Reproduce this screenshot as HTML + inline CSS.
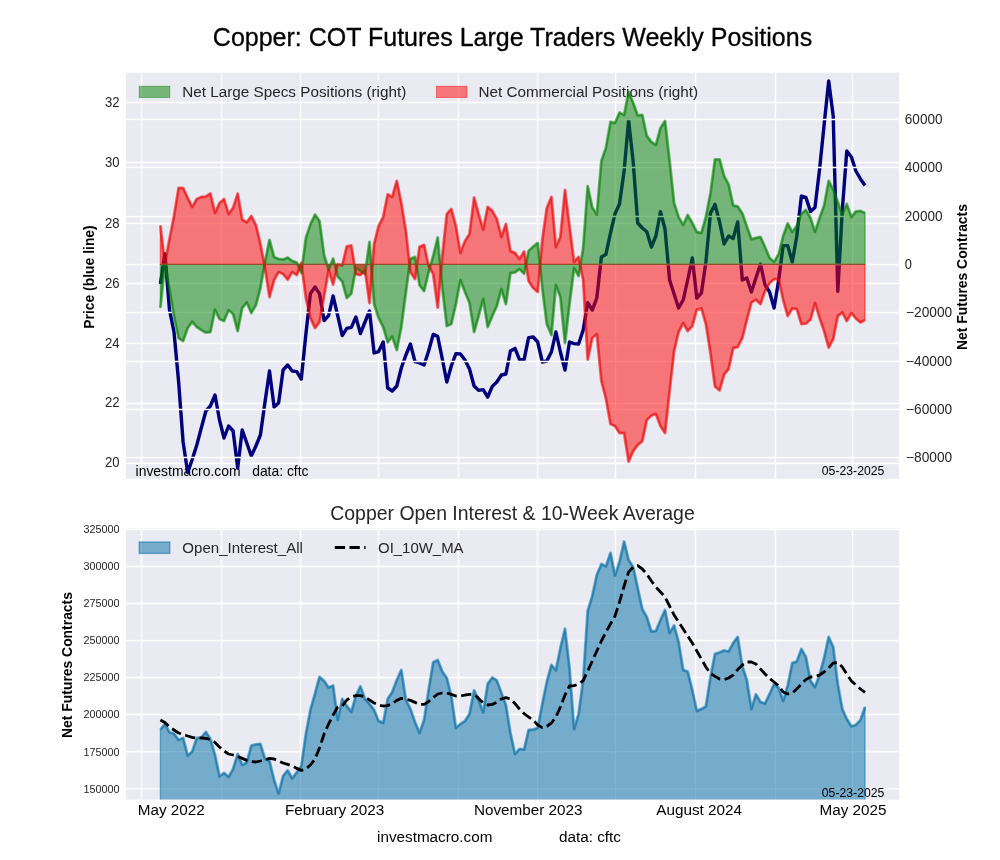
<!DOCTYPE html><html><head><meta charset="utf-8"><title>Copper COT</title>
<style>html,body{margin:0;padding:0;background:#fff}svg{display:block;will-change:transform}text{font-family:"Liberation Sans",sans-serif;paint-order:stroke}</style></head><body>
<svg width="1000" height="860" viewBox="0 0 1000 860">
<rect width="1000" height="860" fill="#fff"/>
<defs><clipPath id="ct"><rect x="126.0" y="72.8" width="773.0" height="406.0"/></clipPath><clipPath id="cb"><rect x="126.0" y="528.5" width="773.0" height="271.1"/></clipPath></defs>
<text x="512.5" y="46.2" font-size="25" text-anchor="middle" fill="#000" stroke="#000" stroke-width="0.3">Copper: COT Futures Large Traders Weekly Positions</text>
<rect x="126.0" y="72.8" width="773.0" height="406.0" fill="#eaeaf2"/>
<g stroke="#fff" stroke-width="1.39" clip-path="url(#ct)">
<line x1="141.5" y1="72.8" x2="141.5" y2="478.8"/>
<line x1="221.5" y1="72.8" x2="221.5" y2="478.8"/>
<line x1="300.5" y1="72.8" x2="300.5" y2="478.8"/>
<line x1="378.5" y1="72.8" x2="378.5" y2="478.8"/>
<line x1="458.5" y1="72.8" x2="458.5" y2="478.8"/>
<line x1="537.5" y1="72.8" x2="537.5" y2="478.8"/>
<line x1="615.5" y1="72.8" x2="615.5" y2="478.8"/>
<line x1="695.5" y1="72.8" x2="695.5" y2="478.8"/>
<line x1="775.5" y1="72.8" x2="775.5" y2="478.8"/>
<line x1="852.5" y1="72.8" x2="852.5" y2="478.8"/>
<line x1="126.0" y1="102.5" x2="899.0" y2="102.5"/>
<line x1="126.0" y1="162.5" x2="899.0" y2="162.5"/>
<line x1="126.0" y1="223.5" x2="899.0" y2="223.5"/>
<line x1="126.0" y1="283.5" x2="899.0" y2="283.5"/>
<line x1="126.0" y1="343.5" x2="899.0" y2="343.5"/>
<line x1="126.0" y1="403.5" x2="899.0" y2="403.5"/>
<line x1="126.0" y1="463.5" x2="899.0" y2="463.5"/>
</g>
<text x="105.0" y="106.8" font-size="13.9" fill="#262626" textLength="14.6" lengthAdjust="spacingAndGlyphs">32</text>
<text x="105.0" y="166.8" font-size="13.9" fill="#262626" textLength="14.6" lengthAdjust="spacingAndGlyphs">30</text>
<text x="105.0" y="227.8" font-size="13.9" fill="#262626" textLength="14.6" lengthAdjust="spacingAndGlyphs">28</text>
<text x="105.0" y="287.8" font-size="13.9" fill="#262626" textLength="14.6" lengthAdjust="spacingAndGlyphs">26</text>
<text x="105.0" y="347.8" font-size="13.9" fill="#262626" textLength="14.6" lengthAdjust="spacingAndGlyphs">24</text>
<text x="105.0" y="407.0" font-size="13.9" fill="#262626" textLength="14.6" lengthAdjust="spacingAndGlyphs">22</text>
<text x="105.0" y="467.0" font-size="13.9" fill="#262626" textLength="14.6" lengthAdjust="spacingAndGlyphs">20</text>
<text x="904.8" y="124.2" font-size="13.9" fill="#262626" textLength="37.8" lengthAdjust="spacingAndGlyphs">60000</text>
<text x="904.8" y="172.2" font-size="13.9" fill="#262626" textLength="37.8" lengthAdjust="spacingAndGlyphs">40000</text>
<text x="904.8" y="221.2" font-size="13.9" fill="#262626" textLength="37.8" lengthAdjust="spacingAndGlyphs">20000</text>
<text x="904.8" y="269.2" font-size="13.9" fill="#262626" textLength="7.2" lengthAdjust="spacingAndGlyphs">0</text>
<text x="906.0" y="317.2" font-size="13.9" fill="#262626" textLength="46.2" lengthAdjust="spacingAndGlyphs">−20000</text>
<text x="906.0" y="366.2" font-size="13.9" fill="#262626" textLength="46.2" lengthAdjust="spacingAndGlyphs">−40000</text>
<text x="906.0" y="414.2" font-size="13.9" fill="#262626" textLength="46.2" lengthAdjust="spacingAndGlyphs">−60000</text>
<text x="906.0" y="462.2" font-size="13.9" fill="#262626" textLength="46.2" lengthAdjust="spacingAndGlyphs">−80000</text>
<text transform="translate(93.7,277) rotate(-90)" font-size="13.9" font-weight="bold" text-anchor="middle" fill="#000">Price (blue line)</text>
<text transform="translate(966.6,277) rotate(-90)" font-size="13.9" font-weight="bold" text-anchor="middle" fill="#000">Net Futures Contracts</text>
<rect x="139.2" y="86.2" width="30.6" height="11.4" fill="#008000" fill-opacity="0.5" stroke="#008000" stroke-opacity="0.5" stroke-width="0.8"/>
<text x="182.3" y="97.2" font-size="15.28" fill="#262626">Net Large Specs Positions (right)</text>
<rect x="436.4" y="86.2" width="30.6" height="11.4" fill="#ff0000" fill-opacity="0.5" stroke="#ff0000" stroke-opacity="0.5" stroke-width="0.8"/>
<text x="478.4" y="97.2" font-size="15.28" fill="#262626">Net Commercial Positions (right)</text>
<text x="135.6" y="475.6" font-size="13.9" fill="#000" xml:space="preserve">investmacro.com   data: cftc</text>
<text x="821.8" y="474.7" font-size="12.5" fill="#000" textLength="62.6" lengthAdjust="spacingAndGlyphs">05-23-2025</text>
<g clip-path="url(#ct)">
<polyline points="160.4,284.0 164.9,254.0 169.5,310.0 174.0,332.0 178.6,381.5 183.1,442.0 187.7,472.5 192.2,459.5 196.8,445.0 201.3,428.0 205.9,411.0 210.4,406.0 215.0,395.0 219.5,420.0 224.0,438.0 228.6,426.0 233.1,431.0 237.7,468.0 242.2,430.0 246.8,443.0 251.3,456.0 255.9,446.0 260.4,435.0 265.0,402.0 269.5,371.0 274.1,407.0 278.6,403.0 283.1,370.0 287.7,365.0 292.2,371.0 296.8,371.6 301.3,379.0 305.9,334.0 310.4,293.6 315.0,287.0 319.5,293.6 324.1,320.5 328.6,315.6 333.1,296.0 337.7,315.6 342.2,335.5 346.8,328.4 351.3,327.4 355.9,317.0 360.4,333.6 365.0,322.0 369.5,311.0 374.1,353.0 378.6,351.6 383.2,342.0 387.7,388.0 392.2,391.0 396.8,386.0 401.3,368.0 405.9,355.0 410.4,344.0 415.0,361.6 419.5,363.0 424.1,365.0 428.6,351.0 433.2,334.4 437.7,336.4 442.3,359.0 446.8,382.0 451.3,366.0 455.9,353.6 460.4,354.0 465.0,360.0 469.5,369.0 474.1,386.0 478.6,390.4 483.2,389.6 487.7,397.0 492.3,386.4 496.8,382.0 501.4,375.0 505.9,374.0 510.4,351.0 515.0,348.4 519.5,359.6 524.1,359.6 528.6,337.6 533.2,337.0 537.7,342.0 542.3,362.0 546.8,361.0 551.4,352.0 555.9,332.0 560.4,352.0 565.0,370.0 569.5,342.0 574.1,343.6 578.6,344.0 583.2,330.0 587.7,302.7 592.3,310.2 596.8,298.0 601.4,257.0 605.9,254.4 610.5,233.0 615.0,213.8 619.5,204.0 624.1,171.0 628.6,120.4 633.2,162.0 637.7,223.0 642.3,228.0 646.8,231.8 651.4,247.0 655.9,236.0 660.5,211.7 665.0,229.0 669.6,280.0 674.1,294.0 678.6,308.0 683.2,300.0 687.7,280.0 692.3,258.0 696.8,298.0 701.4,293.0 705.9,262.0 710.5,213.0 715.0,204.4 719.6,222.0 724.1,244.0 728.6,236.0 733.2,238.4 737.7,222.0 742.3,280.0 746.8,278.0 751.4,292.0 755.9,278.0 760.5,264.0 765.0,285.0 769.6,292.0 774.1,308.0 778.7,280.0 783.2,245.6 787.7,245.6 792.3,262.0 796.8,236.0 801.4,196.0 805.9,197.4 810.5,211.4 815.0,207.4 819.6,169.0 824.1,125.0 828.7,81.0 833.2,116.0 837.8,291.3 842.3,210.0 846.8,151.0 851.4,157.0 855.9,171.0 860.5,179.0 865.0,185.4" fill="none" stroke="#00007f" stroke-width="3.4" stroke-linejoin="round" stroke-linecap="butt"/>
<g stroke="#fff" stroke-width="1.39">
<line x1="126.0" y1="119.5" x2="899.0" y2="119.5"/>
<line x1="126.0" y1="167.5" x2="899.0" y2="167.5"/>
<line x1="126.0" y1="216.5" x2="899.0" y2="216.5"/>
<line x1="126.0" y1="264.5" x2="899.0" y2="264.5"/>
<line x1="126.0" y1="312.5" x2="899.0" y2="312.5"/>
<line x1="126.0" y1="361.5" x2="899.0" y2="361.5"/>
<line x1="126.0" y1="409.5" x2="899.0" y2="409.5"/>
<line x1="126.0" y1="457.5" x2="899.0" y2="457.5"/>
</g>
<polygon points="160.4,264.4 160.4,307.6 164.9,264.0 169.5,290.0 174.0,316.0 178.6,338.0 183.1,341.0 187.7,328.0 192.2,321.6 196.8,327.0 201.3,330.0 205.9,332.6 210.4,332.0 215.0,309.6 219.5,319.0 224.0,321.0 228.6,310.0 233.1,314.0 237.7,331.0 242.2,308.0 246.8,302.4 251.3,313.0 255.9,305.0 260.4,288.0 265.0,262.0 269.5,240.0 274.1,257.0 278.6,259.0 283.1,259.6 287.7,257.6 292.2,261.0 296.8,262.6 301.3,273.0 305.9,238.0 310.4,224.4 315.0,214.7 319.5,221.0 324.1,255.0 328.6,270.0 333.1,258.6 337.7,276.5 342.2,281.5 346.8,298.0 351.3,293.6 355.9,268.0 360.4,271.0 365.0,274.0 369.5,242.0 374.1,304.0 378.6,318.0 383.2,327.0 387.7,342.4 392.2,336.4 396.8,350.0 401.3,327.0 405.9,292.0 410.4,259.0 415.0,257.0 419.5,285.0 424.1,291.0 428.6,272.0 433.2,256.0 437.7,237.6 442.3,288.0 446.8,326.0 451.3,324.0 455.9,304.0 460.4,280.0 465.0,292.0 469.5,303.0 474.1,332.0 478.6,316.0 483.2,299.0 487.7,327.0 492.3,316.0 496.8,306.0 501.4,289.0 505.9,304.0 510.4,273.0 515.0,272.4 519.5,269.0 524.1,273.6 528.6,251.0 533.2,246.7 537.7,243.0 542.3,288.0 546.8,324.0 551.4,335.0 555.9,285.0 560.4,297.0 565.0,343.0 569.5,304.0 574.1,268.0 578.6,276.0 583.2,248.0 587.7,186.3 592.3,207.5 596.8,214.7 601.4,161.0 605.9,148.0 610.5,122.0 615.0,123.0 619.5,112.6 624.1,115.0 628.6,92.0 633.2,103.0 637.7,115.4 642.3,115.0 646.8,136.0 651.4,142.0 655.9,145.0 660.5,128.0 665.0,121.0 669.6,161.0 674.1,203.0 678.6,217.0 683.2,225.0 687.7,215.0 692.3,223.0 696.8,232.0 701.4,233.0 705.9,217.0 710.5,193.0 715.0,159.4 719.6,159.4 724.1,176.0 728.6,184.5 733.2,205.5 737.7,206.5 742.3,213.3 746.8,226.5 751.4,239.3 755.9,238.0 760.5,237.0 765.0,247.0 769.6,258.0 774.1,262.0 778.7,254.0 783.2,236.0 787.7,223.5 792.3,232.2 796.8,226.0 801.4,213.6 805.9,210.0 810.5,218.0 815.0,232.0 819.6,218.0 824.1,205.5 828.7,181.0 833.2,189.5 837.8,202.0 842.3,215.0 846.8,204.0 851.4,217.0 855.9,211.5 860.5,211.0 865.0,213.0 865.0,264.4" fill="#008000" fill-opacity="0.5" stroke="#008000" stroke-opacity="0.5" stroke-width="1.39" stroke-linejoin="round"/>
<polygon points="160.4,264.4 160.4,225.6 164.9,264.0 169.5,239.0 174.0,216.0 178.6,188.0 183.1,188.0 187.7,198.0 192.2,207.0 196.8,199.0 201.3,197.0 205.9,196.4 210.4,193.6 215.0,213.0 219.5,203.0 224.0,199.0 228.6,214.0 233.1,208.0 237.7,193.6 242.2,219.6 246.8,222.4 251.3,216.0 255.9,225.0 260.4,244.0 265.0,268.0 269.5,297.0 274.1,280.0 278.6,272.0 283.1,274.0 287.7,279.6 292.2,272.0 296.8,275.0 301.3,263.0 305.9,298.0 310.4,318.0 315.0,328.0 319.5,322.0 324.1,296.0 328.6,270.0 333.1,284.6 337.7,264.3 342.2,265.5 346.8,246.4 351.3,245.4 355.9,274.0 360.4,275.0 365.0,270.0 369.5,303.0 374.1,244.0 378.6,226.0 383.2,217.0 387.7,194.4 392.2,197.0 396.8,181.0 401.3,203.0 405.9,231.0 410.4,272.0 415.0,279.0 419.5,247.0 424.1,245.0 428.6,266.0 433.2,274.0 437.7,307.6 442.3,256.0 446.8,214.0 451.3,209.0 455.9,226.0 460.4,253.0 465.0,241.0 469.5,234.0 474.1,197.6 478.6,214.0 483.2,229.6 487.7,207.0 492.3,211.0 496.8,219.0 501.4,237.0 505.9,224.0 510.4,251.0 515.0,253.0 519.5,259.0 524.1,251.6 528.6,281.0 533.2,288.0 537.7,292.0 542.3,240.0 546.8,208.0 551.4,197.0 555.9,247.0 560.4,237.0 565.0,190.0 569.5,226.0 574.1,262.0 578.6,257.0 583.2,280.0 587.7,359.6 592.3,338.0 596.8,334.0 601.4,381.0 605.9,398.5 610.5,424.0 615.0,426.0 619.5,433.0 624.1,433.0 628.6,461.6 633.2,451.0 637.7,445.0 642.3,441.0 646.8,420.0 651.4,415.5 655.9,414.0 660.5,426.0 665.0,433.0 669.6,391.0 674.1,351.0 678.6,332.0 683.2,323.0 687.7,331.0 692.3,326.0 696.8,309.6 701.4,308.4 705.9,324.0 710.5,353.5 715.0,386.5 719.6,390.3 724.1,374.5 728.6,369.0 733.2,348.0 737.7,347.0 742.3,338.0 746.8,320.0 751.4,302.4 755.9,299.6 760.5,304.0 765.0,291.0 769.6,283.0 774.1,279.0 778.7,279.6 783.2,300.0 787.7,316.0 792.3,308.4 796.8,309.0 801.4,324.0 805.9,323.6 810.5,319.6 815.0,303.0 819.6,318.0 824.1,331.0 828.7,347.6 833.2,339.0 837.8,316.0 842.3,312.4 846.8,321.0 851.4,313.0 855.9,318.4 860.5,322.4 865.0,320.0 865.0,264.4" fill="#ff0000" fill-opacity="0.5" stroke="#ff0000" stroke-opacity="0.5" stroke-width="1.39" stroke-linejoin="round"/>
<polyline points="160.4,307.6 164.9,264.0 169.5,290.0 174.0,316.0 178.6,338.0 183.1,341.0 187.7,328.0 192.2,321.6 196.8,327.0 201.3,330.0 205.9,332.6 210.4,332.0 215.0,309.6 219.5,319.0 224.0,321.0 228.6,310.0 233.1,314.0 237.7,331.0 242.2,308.0 246.8,302.4 251.3,313.0 255.9,305.0 260.4,288.0 265.0,262.0 269.5,240.0 274.1,257.0 278.6,259.0 283.1,259.6 287.7,257.6 292.2,261.0 296.8,262.6 301.3,273.0 305.9,238.0 310.4,224.4 315.0,214.7 319.5,221.0 324.1,255.0 328.6,270.0 333.1,258.6 337.7,276.5 342.2,281.5 346.8,298.0 351.3,293.6 355.9,268.0 360.4,271.0 365.0,274.0 369.5,242.0 374.1,304.0 378.6,318.0 383.2,327.0 387.7,342.4 392.2,336.4 396.8,350.0 401.3,327.0 405.9,292.0 410.4,259.0 415.0,257.0 419.5,285.0 424.1,291.0 428.6,272.0 433.2,256.0 437.7,237.6 442.3,288.0 446.8,326.0 451.3,324.0 455.9,304.0 460.4,280.0 465.0,292.0 469.5,303.0 474.1,332.0 478.6,316.0 483.2,299.0 487.7,327.0 492.3,316.0 496.8,306.0 501.4,289.0 505.9,304.0 510.4,273.0 515.0,272.4 519.5,269.0 524.1,273.6 528.6,251.0 533.2,246.7 537.7,243.0 542.3,288.0 546.8,324.0 551.4,335.0 555.9,285.0 560.4,297.0 565.0,343.0 569.5,304.0 574.1,268.0 578.6,276.0 583.2,248.0 587.7,186.3 592.3,207.5 596.8,214.7 601.4,161.0 605.9,148.0 610.5,122.0 615.0,123.0 619.5,112.6 624.1,115.0 628.6,92.0 633.2,103.0 637.7,115.4 642.3,115.0 646.8,136.0 651.4,142.0 655.9,145.0 660.5,128.0 665.0,121.0 669.6,161.0 674.1,203.0 678.6,217.0 683.2,225.0 687.7,215.0 692.3,223.0 696.8,232.0 701.4,233.0 705.9,217.0 710.5,193.0 715.0,159.4 719.6,159.4 724.1,176.0 728.6,184.5 733.2,205.5 737.7,206.5 742.3,213.3 746.8,226.5 751.4,239.3 755.9,238.0 760.5,237.0 765.0,247.0 769.6,258.0 774.1,262.0 778.7,254.0 783.2,236.0 787.7,223.5 792.3,232.2 796.8,226.0 801.4,213.6 805.9,210.0 810.5,218.0 815.0,232.0 819.6,218.0 824.1,205.5 828.7,181.0 833.2,189.5 837.8,202.0 842.3,215.0 846.8,204.0 851.4,217.0 855.9,211.5 860.5,211.0 865.0,213.0" fill="none" stroke="#008000" stroke-opacity="0.5" stroke-width="3.0" stroke-linejoin="round"/>
<polyline points="160.4,225.6 164.9,264.0 169.5,239.0 174.0,216.0 178.6,188.0 183.1,188.0 187.7,198.0 192.2,207.0 196.8,199.0 201.3,197.0 205.9,196.4 210.4,193.6 215.0,213.0 219.5,203.0 224.0,199.0 228.6,214.0 233.1,208.0 237.7,193.6 242.2,219.6 246.8,222.4 251.3,216.0 255.9,225.0 260.4,244.0 265.0,268.0 269.5,297.0 274.1,280.0 278.6,272.0 283.1,274.0 287.7,279.6 292.2,272.0 296.8,275.0 301.3,263.0 305.9,298.0 310.4,318.0 315.0,328.0 319.5,322.0 324.1,296.0 328.6,270.0 333.1,284.6 337.7,264.3 342.2,265.5 346.8,246.4 351.3,245.4 355.9,274.0 360.4,275.0 365.0,270.0 369.5,303.0 374.1,244.0 378.6,226.0 383.2,217.0 387.7,194.4 392.2,197.0 396.8,181.0 401.3,203.0 405.9,231.0 410.4,272.0 415.0,279.0 419.5,247.0 424.1,245.0 428.6,266.0 433.2,274.0 437.7,307.6 442.3,256.0 446.8,214.0 451.3,209.0 455.9,226.0 460.4,253.0 465.0,241.0 469.5,234.0 474.1,197.6 478.6,214.0 483.2,229.6 487.7,207.0 492.3,211.0 496.8,219.0 501.4,237.0 505.9,224.0 510.4,251.0 515.0,253.0 519.5,259.0 524.1,251.6 528.6,281.0 533.2,288.0 537.7,292.0 542.3,240.0 546.8,208.0 551.4,197.0 555.9,247.0 560.4,237.0 565.0,190.0 569.5,226.0 574.1,262.0 578.6,257.0 583.2,280.0 587.7,359.6 592.3,338.0 596.8,334.0 601.4,381.0 605.9,398.5 610.5,424.0 615.0,426.0 619.5,433.0 624.1,433.0 628.6,461.6 633.2,451.0 637.7,445.0 642.3,441.0 646.8,420.0 651.4,415.5 655.9,414.0 660.5,426.0 665.0,433.0 669.6,391.0 674.1,351.0 678.6,332.0 683.2,323.0 687.7,331.0 692.3,326.0 696.8,309.6 701.4,308.4 705.9,324.0 710.5,353.5 715.0,386.5 719.6,390.3 724.1,374.5 728.6,369.0 733.2,348.0 737.7,347.0 742.3,338.0 746.8,320.0 751.4,302.4 755.9,299.6 760.5,304.0 765.0,291.0 769.6,283.0 774.1,279.0 778.7,279.6 783.2,300.0 787.7,316.0 792.3,308.4 796.8,309.0 801.4,324.0 805.9,323.6 810.5,319.6 815.0,303.0 819.6,318.0 824.1,331.0 828.7,347.6 833.2,339.0 837.8,316.0 842.3,312.4 846.8,321.0 851.4,313.0 855.9,318.4 860.5,322.4 865.0,320.0" fill="none" stroke="#e60000" stroke-opacity="0.5" stroke-width="3.0" stroke-linejoin="round"/>
<line x1="159.7" y1="264.5" x2="865.7" y2="264.5" stroke="#645f3c" stroke-opacity="0.5" stroke-width="1"/>
</g>
<text x="512.5" y="520.3" font-size="19.44" text-anchor="middle" fill="#262626">Copper Open Interest &amp; 10-Week Average</text>
<rect x="126.0" y="528.5" width="773.0" height="271.1" fill="#eaeaf2"/>
<g stroke="#fff" stroke-width="1.39" clip-path="url(#cb)">
<line x1="141.5" y1="528.5" x2="141.5" y2="799.6"/>
<line x1="221.5" y1="528.5" x2="221.5" y2="799.6"/>
<line x1="300.5" y1="528.5" x2="300.5" y2="799.6"/>
<line x1="378.5" y1="528.5" x2="378.5" y2="799.6"/>
<line x1="458.5" y1="528.5" x2="458.5" y2="799.6"/>
<line x1="537.5" y1="528.5" x2="537.5" y2="799.6"/>
<line x1="615.5" y1="528.5" x2="615.5" y2="799.6"/>
<line x1="695.5" y1="528.5" x2="695.5" y2="799.6"/>
<line x1="775.5" y1="528.5" x2="775.5" y2="799.6"/>
<line x1="852.5" y1="528.5" x2="852.5" y2="799.6"/>
<line x1="126.0" y1="529.5" x2="899.0" y2="529.5"/>
<line x1="126.0" y1="566.5" x2="899.0" y2="566.5"/>
<line x1="126.0" y1="603.5" x2="899.0" y2="603.5"/>
<line x1="126.0" y1="640.5" x2="899.0" y2="640.5"/>
<line x1="126.0" y1="677.5" x2="899.0" y2="677.5"/>
<line x1="126.0" y1="714.5" x2="899.0" y2="714.5"/>
<line x1="126.0" y1="751.8" x2="899.0" y2="751.8"/>
<line x1="126.0" y1="788.9" x2="899.0" y2="788.9"/>
</g>
<text x="83.5" y="532.6" font-size="11.1" fill="#262626" textLength="36.1" lengthAdjust="spacingAndGlyphs">325000</text>
<text x="83.5" y="569.6" font-size="11.1" fill="#262626" textLength="36.1" lengthAdjust="spacingAndGlyphs">300000</text>
<text x="83.5" y="606.6" font-size="11.1" fill="#262626" textLength="36.1" lengthAdjust="spacingAndGlyphs">275000</text>
<text x="83.5" y="644.0" font-size="11.1" fill="#262626" textLength="36.1" lengthAdjust="spacingAndGlyphs">250000</text>
<text x="83.5" y="681.0" font-size="11.1" fill="#262626" textLength="36.1" lengthAdjust="spacingAndGlyphs">225000</text>
<text x="83.5" y="718.0" font-size="11.1" fill="#262626" textLength="36.1" lengthAdjust="spacingAndGlyphs">200000</text>
<text x="83.5" y="755.8" font-size="11.1" fill="#262626" textLength="36.1" lengthAdjust="spacingAndGlyphs">175000</text>
<text x="83.5" y="792.9" font-size="11.1" fill="#262626" textLength="36.1" lengthAdjust="spacingAndGlyphs">150000</text>
<text transform="translate(72.3,665) rotate(-90)" font-size="13.9" font-weight="bold" text-anchor="middle" fill="#000">Net Futures Contracts</text>
<g clip-path="url(#cb)">
<polygon points="160.4,804.6 160.4,729.6 164.9,724.0 169.5,732.4 174.0,733.6 178.6,740.0 183.1,738.0 187.7,755.6 192.2,751.6 196.8,738.0 201.3,737.6 205.9,732.0 210.4,739.0 215.0,755.0 219.5,776.4 224.0,773.0 228.6,777.0 233.1,769.0 237.7,754.0 242.2,765.0 246.8,762.4 251.3,745.6 255.9,744.4 260.4,744.0 265.0,759.0 269.5,761.0 274.1,780.0 278.6,793.6 283.1,776.0 287.7,770.4 292.2,778.4 296.8,772.4 301.3,766.0 305.9,734.0 310.4,710.0 315.0,693.6 319.5,677.0 324.1,681.0 328.6,687.6 333.1,685.6 337.7,720.0 342.2,699.0 346.8,706.0 351.3,712.0 355.9,696.0 360.4,686.4 365.0,699.0 369.5,704.0 374.1,710.0 378.6,721.0 383.2,723.0 387.7,699.0 392.2,692.0 396.8,680.0 401.3,670.0 405.9,700.0 410.4,709.0 415.0,722.0 419.5,733.0 424.1,720.0 428.6,690.0 433.2,662.4 437.7,660.0 442.3,671.6 446.8,678.0 451.3,696.0 455.9,728.0 460.4,724.0 465.0,721.0 469.5,714.0 474.1,690.4 478.6,700.0 483.2,712.4 487.7,684.0 492.3,677.6 496.8,680.4 501.4,693.0 505.9,705.0 510.4,733.0 515.0,754.0 519.5,749.0 524.1,749.6 528.6,730.0 533.2,729.6 537.7,728.0 542.3,704.0 546.8,682.0 551.4,665.0 555.9,670.4 560.4,648.0 565.0,628.8 569.5,668.0 574.1,729.0 578.6,714.0 583.2,680.0 587.7,611.0 592.3,596.0 596.8,575.0 601.4,564.0 605.9,566.4 610.5,553.0 615.0,575.6 619.5,562.0 624.1,541.6 628.6,560.0 633.2,567.0 637.7,588.0 642.3,609.0 646.8,617.0 651.4,631.6 655.9,631.0 660.5,620.0 665.0,610.0 669.6,633.0 674.1,625.6 678.6,642.0 683.2,670.0 687.7,671.6 692.3,690.0 696.8,711.0 701.4,709.0 705.9,706.4 710.5,677.0 715.0,654.0 719.6,652.4 724.1,650.4 728.6,651.6 733.2,643.0 737.7,637.0 742.3,666.0 746.8,680.0 751.4,709.0 755.9,694.4 760.5,702.0 765.0,703.6 769.6,694.0 774.1,684.0 778.7,688.0 783.2,701.0 787.7,685.6 792.3,663.0 796.8,661.6 801.4,649.0 805.9,657.0 810.5,681.0 815.0,687.0 819.6,675.0 824.1,658.0 828.7,637.0 833.2,647.0 837.8,684.0 842.3,709.0 846.8,719.0 851.4,726.4 855.9,725.0 860.5,720.0 865.0,707.0 865.0,804.6" fill="#006ba4" fill-opacity="0.5" stroke="#006ba4" stroke-opacity="0.5" stroke-width="1.39" stroke-linejoin="round"/>
<polyline points="160.4,729.6 164.9,724.0 169.5,732.4 174.0,733.6 178.6,740.0 183.1,738.0 187.7,755.6 192.2,751.6 196.8,738.0 201.3,737.6 205.9,732.0 210.4,739.0 215.0,755.0 219.5,776.4 224.0,773.0 228.6,777.0 233.1,769.0 237.7,754.0 242.2,765.0 246.8,762.4 251.3,745.6 255.9,744.4 260.4,744.0 265.0,759.0 269.5,761.0 274.1,780.0 278.6,793.6 283.1,776.0 287.7,770.4 292.2,778.4 296.8,772.4 301.3,766.0 305.9,734.0 310.4,710.0 315.0,693.6 319.5,677.0 324.1,681.0 328.6,687.6 333.1,685.6 337.7,720.0 342.2,699.0 346.8,706.0 351.3,712.0 355.9,696.0 360.4,686.4 365.0,699.0 369.5,704.0 374.1,710.0 378.6,721.0 383.2,723.0 387.7,699.0 392.2,692.0 396.8,680.0 401.3,670.0 405.9,700.0 410.4,709.0 415.0,722.0 419.5,733.0 424.1,720.0 428.6,690.0 433.2,662.4 437.7,660.0 442.3,671.6 446.8,678.0 451.3,696.0 455.9,728.0 460.4,724.0 465.0,721.0 469.5,714.0 474.1,690.4 478.6,700.0 483.2,712.4 487.7,684.0 492.3,677.6 496.8,680.4 501.4,693.0 505.9,705.0 510.4,733.0 515.0,754.0 519.5,749.0 524.1,749.6 528.6,730.0 533.2,729.6 537.7,728.0 542.3,704.0 546.8,682.0 551.4,665.0 555.9,670.4 560.4,648.0 565.0,628.8 569.5,668.0 574.1,729.0 578.6,714.0 583.2,680.0 587.7,611.0 592.3,596.0 596.8,575.0 601.4,564.0 605.9,566.4 610.5,553.0 615.0,575.6 619.5,562.0 624.1,541.6 628.6,560.0 633.2,567.0 637.7,588.0 642.3,609.0 646.8,617.0 651.4,631.6 655.9,631.0 660.5,620.0 665.0,610.0 669.6,633.0 674.1,625.6 678.6,642.0 683.2,670.0 687.7,671.6 692.3,690.0 696.8,711.0 701.4,709.0 705.9,706.4 710.5,677.0 715.0,654.0 719.6,652.4 724.1,650.4 728.6,651.6 733.2,643.0 737.7,637.0 742.3,666.0 746.8,680.0 751.4,709.0 755.9,694.4 760.5,702.0 765.0,703.6 769.6,694.0 774.1,684.0 778.7,688.0 783.2,701.0 787.7,685.6 792.3,663.0 796.8,661.6 801.4,649.0 805.9,657.0 810.5,681.0 815.0,687.0 819.6,675.0 824.1,658.0 828.7,637.0 833.2,647.0 837.8,684.0 842.3,709.0 846.8,719.0 851.4,726.4 855.9,725.0 860.5,720.0 865.0,707.0" fill="none" stroke="#006ba4" stroke-opacity="0.5" stroke-width="3.0" stroke-linejoin="round"/>
<polyline points="160.4,720.0 164.9,722.4 169.5,727.0 174.0,730.0 178.6,733.0 183.1,734.4 187.7,736.0 192.2,737.4 196.8,738.0 201.3,738.0 205.9,738.4 210.4,739.6 215.0,742.4 219.5,747.0 224.0,751.0 228.6,754.0 233.1,755.0 237.7,756.4 242.2,758.4 246.8,760.4 251.3,761.6 255.9,762.0 260.4,761.0 265.0,759.6 269.5,758.4 274.1,759.0 278.6,761.0 283.1,763.0 287.7,764.4 292.2,766.0 296.8,768.4 301.3,770.4 305.9,769.0 310.4,765.0 315.0,759.0 319.5,748.0 324.1,734.0 328.6,724.0 333.1,715.0 337.7,707.0 342.2,706.0 346.8,700.0 351.3,697.0 355.9,695.6 360.4,695.6 365.0,697.0 369.5,700.0 374.1,703.0 378.6,705.0 383.2,706.0 387.7,705.6 392.2,703.6 396.8,700.4 401.3,698.4 405.9,699.0 410.4,700.4 415.0,702.4 419.5,704.4 424.1,704.4 428.6,701.6 433.2,697.6 437.7,694.0 442.3,693.0 446.8,693.0 451.3,694.4 455.9,696.0 460.4,696.0 465.0,695.0 469.5,694.4 474.1,694.4 478.6,698.4 483.2,703.0 487.7,705.0 492.3,704.4 496.8,702.4 501.4,699.0 505.9,697.6 510.4,699.0 515.0,703.6 519.5,709.0 524.1,713.6 528.6,717.0 533.2,720.0 537.7,725.0 542.3,727.6 546.8,726.4 551.4,723.0 555.9,717.0 560.4,707.0 565.0,695.0 569.5,686.0 574.1,685.6 578.6,684.0 583.2,680.6 587.7,671.0 592.3,661.0 596.8,651.0 601.4,641.0 605.9,632.0 610.5,624.0 615.0,616.0 619.5,602.0 624.1,586.0 628.6,572.0 633.2,567.0 637.7,565.6 642.3,569.0 646.8,574.0 651.4,581.0 655.9,587.0 660.5,592.0 665.0,597.0 669.6,606.0 674.1,615.0 678.6,622.0 683.2,629.0 687.7,636.0 692.3,643.0 696.8,651.0 701.4,659.0 705.9,667.0 710.5,673.5 715.0,676.4 719.6,679.0 724.1,679.6 728.6,678.0 733.2,675.0 737.7,669.6 742.3,665.0 746.8,662.0 751.4,662.0 755.9,664.0 760.5,669.0 765.0,674.0 769.6,678.4 774.1,682.0 778.7,686.0 783.2,692.0 787.7,694.0 792.3,693.0 796.8,689.0 801.4,684.0 805.9,679.6 810.5,677.0 815.0,676.4 819.6,675.0 824.1,672.0 828.7,668.0 833.2,663.0 837.8,662.4 842.3,667.0 846.8,674.0 851.4,681.0 855.9,685.0 860.5,689.0 865.0,692.4" fill="none" stroke="#000" stroke-width="2.8" stroke-dasharray="10.28,4.44" stroke-linejoin="round"/>
</g>
<rect x="139.2" y="542" width="30.6" height="11.4" fill="#006ba4" fill-opacity="0.5" stroke="#006ba4" stroke-opacity="0.5" stroke-width="1.39"/>
<text x="182.3" y="553" font-size="15.28" fill="#262626" textLength="120.6" lengthAdjust="spacingAndGlyphs">Open_Interest_All</text>
<line x1="334.8" y1="547.5" x2="365.6" y2="547.5" stroke="#000" stroke-width="2.8" stroke-dasharray="10.28,4.44"/>
<text x="378" y="553" font-size="15.28" fill="#262626" textLength="85.6" lengthAdjust="spacingAndGlyphs">OI_10W_MA</text>
<text x="821.8" y="797.3" font-size="12.5" fill="#000" textLength="62.6" lengthAdjust="spacingAndGlyphs">05-23-2025</text>
<text x="171.3" y="815.1" font-size="15.28" text-anchor="middle" fill="#000">May 2022</text>
<text x="334.7" y="815.1" font-size="15.28" text-anchor="middle" fill="#000">February 2023</text>
<text x="528.2" y="815.1" font-size="15.28" text-anchor="middle" fill="#000">November 2023</text>
<text x="699.2" y="815.1" font-size="15.28" text-anchor="middle" fill="#000">August 2024</text>
<text x="853" y="815.1" font-size="15.28" text-anchor="middle" fill="#000">May 2025</text>
<text x="377" y="841.6" font-size="15.28" fill="#000">investmacro.com</text>
<text x="559" y="841.6" font-size="15.28" fill="#000">data: cftc</text>
</svg></body></html>
